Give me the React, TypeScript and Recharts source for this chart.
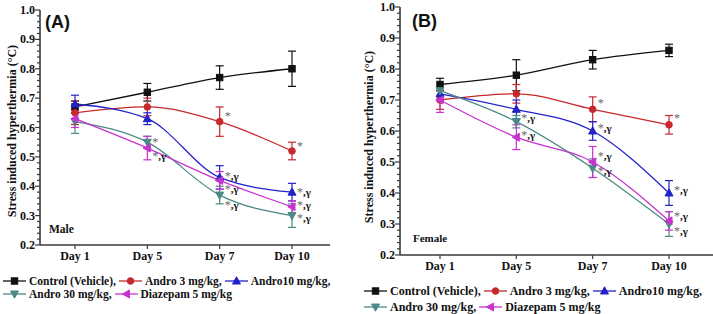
import React from 'react';
import { LineChart, Line, XAxis, YAxis, ErrorBar, LabelList } from 'recharts';

// ---------- data ----------
const DAYS = ['Day 1', 'Day 5', 'Day 7', 'Day 10'];

const Y_MAJOR_TICKS = [0.2, 0.3, 0.4, 0.5, 0.6, 0.7, 0.8, 0.9, 1.0];
const Y_ALL_TICKS = [
  0.2, 0.22, 0.24, 0.26, 0.28, 0.3, 0.32, 0.34, 0.36, 0.38, 0.4, 0.42, 0.44, 0.46, 0.48,
  0.5, 0.52, 0.54, 0.56, 0.58, 0.6, 0.62, 0.64, 0.66, 0.68, 0.7, 0.72, 0.74, 0.76, 0.78,
  0.8, 0.82, 0.84, 0.86, 0.88, 0.9, 0.92, 0.94, 0.96, 0.98, 1.0,
];

// Male (A)
const MALE_CONTROL = [0.67, 0.72, 0.77, 0.8];
const MALE_CONTROL_ERR = [0.02, 0.03, 0.04, 0.06];
const MALE_ANDRO3 = [0.65, 0.67, 0.62, 0.52];
const MALE_ANDRO3_ERR = [0.04, 0.03, 0.05, 0.03];
const MALE_ANDRO10 = [0.68, 0.63, 0.43, 0.38];
const MALE_ANDRO10_ERR = [0.03, 0.02, 0.04, 0.03];
const MALE_ANDRO30 = [0.62, 0.55, 0.37, 0.3];
const MALE_ANDRO30_ERR = [0.04, 0.02, 0.03, 0.04];
const MALE_DIAZEPAM = [0.63, 0.53, 0.42, 0.33];
const MALE_DIAZEPAM_ERR = [0.03, 0.04, 0.03, 0.02];

const MALE_CONTROL_SIG = ['', '', '', ''];
const MALE_ANDRO3_SIG = ['', '', '*', '*'];
const MALE_ANDRO10_SIG = ['', '', '*,γ', '*,γ'];
const MALE_ANDRO30_SIG = ['', '*', '*,γ', '*,γ'];
const MALE_DIAZEPAM_SIG = ['', '*,γ', '*,γ', '*,γ'];

// Female (B)
const FEMALE_CONTROL = [0.75, 0.78, 0.83, 0.86];
const FEMALE_CONTROL_ERR = [0.02, 0.05, 0.03, 0.02];
const FEMALE_ANDRO3 = [0.7, 0.72, 0.67, 0.62];
const FEMALE_ANDRO3_ERR = [0.03, 0.03, 0.04, 0.03];
const FEMALE_ANDRO10 = [0.72, 0.67, 0.6, 0.4];
const FEMALE_ANDRO10_ERR = [0.02, 0.03, 0.03, 0.04];
const FEMALE_ANDRO30 = [0.73, 0.63, 0.48, 0.3];
const FEMALE_ANDRO30_ERR = [0.02, 0.02, 0.03, 0.04];
const FEMALE_DIAZEPAM = [0.7, 0.58, 0.5, 0.31];
const FEMALE_DIAZEPAM_ERR = [0.04, 0.04, 0.05, 0.03];

const FEMALE_CONTROL_SIG = ['', '', '', ''];
const FEMALE_ANDRO3_SIG = ['', '', '*', '*'];
const FEMALE_ANDRO10_SIG = ['', '', '*,γ', '*,γ'];
const FEMALE_ANDRO30_SIG = ['', '*,γ', '*,γ', '*,γ'];
const FEMALE_DIAZEPAM_SIG = ['', '*,γ', '*,γ', '*,γ'];

// ---------- style ----------
const SERIF = '"Liberation Serif", "Times New Roman", Times, serif';
const SANS = '"Liberation Sans", Arial, Helvetica, sans-serif';
const AXIS = '#3a3a3a';

const C_CONTROL = '#111111';
const C_ANDRO3 = '#c6282c';
const C_ANDRO10 = '#2222c8';
const C_ANDRO30 = '#4b8a86';
const C_DIAZEPAM = '#c832d0';

type Shape = 'square' | 'circle' | 'up' | 'down' | 'left';

// vertical offsets (px) of the significance marks, per panel / series
const MALE_SIG_DY = {
  control: [0, 0, 0, 0],
  andro3: [0, 0, -6, -5],
  andro10: [0, 0, -1, 0],
  andro30: [0, 0, 10, 2],
  diazepam: [0, 8, 9, -2],
};
const FEMALE_SIG_DY = {
  control: [0, 0, 0, 0],
  andro3: [0, 0, -6, -7],
  andro10: [0, 0, -3, -3],
  andro30: [0, -4, 3, 7],
  diazepam: [0, -2, -6, -5],
};

interface SeriesDef {
  key: string;
  name: string;
  color: string;
  shape: Shape;
  values: number[];
  errors: number[];
  sig: string[];
  sigDy: number[];
}

const marker = (shape: Shape, cx: number, cy: number, color: string, key?: string) => {
  switch (shape) {
    case 'square':
      return <rect key={key} x={cx - 3.2} y={cy - 3.2} width={6.4} height={6.4} fill={color} stroke={color} />;
    case 'circle':
      return <circle key={key} cx={cx} cy={cy} r={3.3} fill={color} stroke={color} />;
    case 'up':
      return (
        <polygon key={key} points={`${cx},${cy - 4.2} ${cx - 4},${cy + 3} ${cx + 4},${cy + 3}`} fill={color} stroke={color} strokeLinejoin="round" />
      );
    case 'down':
      return (
        <polygon key={key} points={`${cx},${cy + 4.2} ${cx - 4},${cy - 3} ${cx + 4},${cy - 3}`} fill={color} stroke={color} strokeLinejoin="round" />
      );
    case 'left':
    default:
      return (
        <polygon key={key} points={`${cx - 4.2},${cy} ${cx + 3},${cy - 4} ${cx + 3},${cy + 4}`} fill={color} stroke={color} strokeLinejoin="round" />
      );
  }
};

const makeSeries = (
  values: number[][],
  errors: number[][],
  sigs: string[][],
  dys: { [k: string]: number[] }
): SeriesDef[] => [
  { key: 'control', name: 'Control (Vehicle),', color: C_CONTROL, shape: 'square', values: values[0], errors: errors[0], sig: sigs[0], sigDy: dys.control },
  { key: 'andro3', name: 'Andro 3 mg/kg,', color: C_ANDRO3, shape: 'circle', values: values[1], errors: errors[1], sig: sigs[1], sigDy: dys.andro3 },
  { key: 'andro10', name: 'Andro10 mg/kg,', color: C_ANDRO10, shape: 'up', values: values[2], errors: errors[2], sig: sigs[2], sigDy: dys.andro10 },
  { key: 'andro30', name: 'Andro 30 mg/kg,', color: C_ANDRO30, shape: 'down', values: values[3], errors: errors[3], sig: sigs[3], sigDy: dys.andro30 },
  { key: 'diazepam', name: 'Diazepam 5 mg/kg', color: C_DIAZEPAM, shape: 'left', values: values[4], errors: errors[4], sig: sigs[4], sigDy: dys.diazepam },
];

const MALE_SERIES = makeSeries(
  [MALE_CONTROL, MALE_ANDRO3, MALE_ANDRO10, MALE_ANDRO30, MALE_DIAZEPAM],
  [MALE_CONTROL_ERR, MALE_ANDRO3_ERR, MALE_ANDRO10_ERR, MALE_ANDRO30_ERR, MALE_DIAZEPAM_ERR],
  [MALE_CONTROL_SIG, MALE_ANDRO3_SIG, MALE_ANDRO10_SIG, MALE_ANDRO30_SIG, MALE_DIAZEPAM_SIG],
  MALE_SIG_DY
);
const FEMALE_SERIES = makeSeries(
  [FEMALE_CONTROL, FEMALE_ANDRO3, FEMALE_ANDRO10, FEMALE_ANDRO30, FEMALE_DIAZEPAM],
  [FEMALE_CONTROL_ERR, FEMALE_ANDRO3_ERR, FEMALE_ANDRO10_ERR, FEMALE_ANDRO30_ERR, FEMALE_DIAZEPAM_ERR],
  [FEMALE_CONTROL_SIG, FEMALE_ANDRO3_SIG, FEMALE_ANDRO10_SIG, FEMALE_ANDRO30_SIG, FEMALE_DIAZEPAM_SIG],
  FEMALE_SIG_DY
);

const buildRows = (series: SeriesDef[]) =>
  DAYS.map((day, i) => {
    const row: { [k: string]: string | number } = { day };
    series.forEach((s) => {
      row[s.key] = s.values[i];
      row[s.key + 'Err'] = s.errors[i];
      row[s.key + 'Sig'] = s.sig[i];
    });
    return row;
  });

const YTick = (props: any) => {
  const { x, y, payload } = props;
  const v = Number(payload.value);
  const major = Y_MAJOR_TICKS.some((m) => Math.abs(m - v) < 1e-6);
  return (
    <g>
      <line x1={x} x2={x - (major ? 5 : 3)} y1={y} y2={y} stroke={AXIS} strokeWidth={1.2} />
      {major && (
        <text x={x - 5} y={y} dy={4} textAnchor="end" fontFamily={SERIF} fontWeight={700} fontSize={12} fill="#111">
          {v.toFixed(1)}
        </text>
      )}
    </g>
  );
};

interface PanelProps {
  series: SeriesDef[];
  width: number;
  height: number;
  margin: { top: number; right: number; left: number; bottom: number };
  padding: { left: number; right: number };
}

const Panel = ({ series, width, height, margin, padding }: PanelProps) => {
  const rows = buildRows(series);
  return (
    <LineChart width={width} height={height} data={rows} margin={margin}>
      <XAxis
        dataKey="day"
        scale="point"
        padding={padding}
        height={30}
        axisLine={{ stroke: AXIS, strokeWidth: 1.6 }}
        tickLine={{ stroke: AXIS, strokeWidth: 1.2 }}
        tickSize={4}
        tickMargin={2}
        tick={{ fill: '#111', fontSize: 12, fontWeight: 700, fontFamily: SERIF }}
      />
      <YAxis
        type="number"
        domain={[0.2, 1.0]}
        ticks={Y_ALL_TICKS}
        interval={0}
        width={40}
        axisLine={{ stroke: AXIS, strokeWidth: 1.6 }}
        tickLine={false}
        tickSize={0}
        tickMargin={0}
        tick={(p: any) => <YTick {...p} />}
      />
      {series.map((s) => (
        <Line
          key={s.key}
          dataKey={s.key}
          type="monotone"
          stroke={s.color}
          strokeWidth={1.3}
          isAnimationActive={false}
          dot={(p: any) => marker(s.shape, p.cx, p.cy, s.color, `${s.key}-dot-${p.index}`)}
          activeDot={false}
        >
          <ErrorBar dataKey={s.key + 'Err'} width={4} stroke={s.color} strokeWidth={1.2} direction="y" />
          <LabelList
            dataKey={s.key + 'Sig'}
            content={(p: any) => {
              const { x, y, value, index } = p;
              if (!value) return null;
              const str = String(value);
              const rest = str.slice(1);
              const dy = s.sigDy[index] || 0;
              return (
                <text
                  key={`${s.key}-sig-${index}`}
                  x={Number(x) + 5}
                  y={Number(y) + dy + 4}
                  fontFamily={SERIF}
                  fontSize={11}
                >
                  <tspan fill="#666" fontSize={12}>*</tspan>
                  {rest && (
                    <tspan fill="#111" fontWeight={700}>
                      {rest}
                    </tspan>
                  )}
                </text>
              );
            }}
          />
        </Line>
      ))}
    </LineChart>
  );
};

const LegendItem = ({ s, gap }: { s: SeriesDef; gap: number }) => (
  <div style={{ display: 'flex', alignItems: 'center', marginRight: gap }}>
    <svg width={23} height={10} style={{ display: 'block' }}>
      <line x1={0} x2={23} y1={5} y2={5} stroke={s.color} strokeWidth={1.3} />
      {marker(s.shape, 11.5, 5, s.color)}
    </svg>
    <span style={{ marginLeft: 3, whiteSpace: 'nowrap' }}>{s.name}</span>
  </div>
);

const LegendBlock = ({
  series,
  left,
  top1,
  top2,
  fontSize,
  gap,
}: {
  series: SeriesDef[];
  left: number;
  top1: number;
  top2: number;
  fontSize: number;
  gap: number;
}) => {
  const rowStyle = (top: number): React.CSSProperties => ({
    position: 'absolute',
    left,
    top: top - 8,
    height: 16,
    display: 'flex',
    alignItems: 'center',
    fontFamily: SERIF,
    fontWeight: 700,
    fontSize,
    color: '#111',
    lineHeight: '16px',
  });
  return (
    <>
      <div style={rowStyle(top1)}>
        {series.slice(0, 3).map((s) => (
          <LegendItem key={s.key} s={s} gap={gap} />
        ))}
      </div>
      <div style={rowStyle(top2)}>
        {series.slice(3).map((s) => (
          <LegendItem key={s.key} s={s} gap={gap} />
        ))}
      </div>
    </>
  );
};

const YTitle = ({ cx, cy }: { cx: number; cy: number }) => (
  <div
    style={{
      position: 'absolute',
      left: cx,
      top: cy,
      transform: 'translate(-50%, -50%) rotate(-90deg)',
      whiteSpace: 'nowrap',
      fontFamily: SERIF,
      fontWeight: 700,
      fontSize: 12,
      color: '#111',
      lineHeight: '14px',
    }}
  >
    Stress induced hyperthermia (°C)
  </div>
);

const Tag = ({ left, cy, text, font, size }: { left: number; cy: number; text: string; font: string; size: number }) => (
  <div
    style={{
      position: 'absolute',
      left,
      top: cy - size / 2 - 1,
      fontFamily: font,
      fontWeight: 700,
      fontSize: size,
      lineHeight: `${size + 2}px`,
      color: '#111',
      whiteSpace: 'nowrap',
    }}
  >
    {text}
  </div>
);

export default function App() {
  return (
    <div style={{ position: 'absolute', left: 0, top: 0, width: 713, height: 314, background: '#fff', overflow: 'hidden' }}>
      <div style={{ position: 'absolute', left: 0, top: 0 }}>
        <Panel
          series={MALE_SERIES}
          width={335}
          height={275}
          margin={{ top: 10, right: 5, left: 0, bottom: 0 }}
          padding={{ left: 35, right: 38 }}
        />
      </div>
      <div style={{ position: 'absolute', left: 360, top: 0 }}>
        <Panel
          series={FEMALE_SERIES}
          width={353}
          height={285}
          margin={{ top: 7, right: 0, left: 0, bottom: 0 }}
          padding={{ left: 40, right: 44 }}
        />
      </div>

      <YTitle cx={12} cy={131} />
      <YTitle cx={369} cy={137} />

      <Tag left={45} cy={22} text="(A)" font={SANS} size={18} />
      <Tag left={412} cy={21} text="(B)" font={SANS} size={18} />
      <Tag left={49} cy={230} text="Male" font={SERIF} size={11.5} />
      <Tag left={413} cy={238} text="Female" font={SERIF} size={11} />

      <LegendBlock series={MALE_SERIES} left={3} top1={281} top2={294} fontSize={11.5} gap={3} />
      <LegendBlock series={FEMALE_SERIES} left={364} top1={291} top2={307} fontSize={12} gap={3} />
    </div>
  );
}
